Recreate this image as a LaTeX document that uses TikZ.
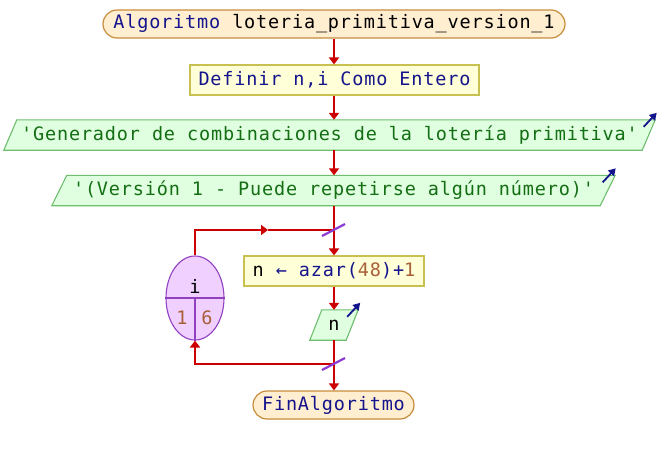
\documentclass[tikz,border=0pt]{standalone}
\usepackage{fontspec}
\usetikzlibrary{arrows.meta,calc,shapes.geometric,backgrounds}
\newfontfamily\codefont[LetterSpace=4.5]{DejaVu Sans Mono}
\definecolor{termfill}{RGB}{255,238,208}
\definecolor{termline}{RGB}{200,140,60}
\definecolor{procfill}{RGB}{255,255,216}
\definecolor{procline}{RGB}{200,192,80}
\definecolor{iofill}{RGB}{224,255,224}
\definecolor{ioline}{RGB}{110,190,110}
\definecolor{loopfill}{RGB}{240,208,255}
\definecolor{loopline}{RGB}{144,64,192}
\definecolor{slashcol}{RGB}{140,60,210}
\definecolor{flowred}{RGB}{204,0,0}
\definecolor{kw}{RGB}{20,20,140}
\definecolor{strcol}{RGB}{20,110,20}
\definecolor{numcol}{RGB}{168,96,56}
\newcommand{\kwd}[1]{\textcolor{kw}{#1}}
\newcommand{\numv}[1]{\textcolor{numcol}{#1}}
\tikzset{
  x=1pt, y=-1pt,
  every node/.style={font=\codefont\fontsize{18.5}{21}\selectfont, inner sep=0pt},
  terminal/.style={draw=termline, fill=termfill, line width=1.2pt, rounded corners=14pt, minimum height=28pt},
  procbox/.style={draw=procline, fill=procfill, line width=1.1pt, minimum height=30pt},
  iobox/.style={minimum height=30pt, text=strcol},
  flow/.style={draw=flowred, line width=2pt},
  flowarrow/.style={flow, -{Triangle[width=10pt,length=7pt]}},
  slashline/.style={draw=slashcol, line width=2.2pt},
  outicon/.style={draw=kw, line width=1.8pt, -{Triangle[width=8pt,length=7pt]}},
  loopnode/.style={draw=loopline, fill=loopfill, line width=1.1pt, ellipse, minimum width=58pt, minimum height=84pt},
}
% parallelogram outline behind an I/O node, slant half-width #2
\newcommand{\ioshape}[2]{%
  \begin{scope}[on background layer]
    \filldraw[fill=iofill, draw=ioline, line width=1.1pt]
      ($(#1.south west)+(-#2,0)$) -- ($(#1.north west)+(#2,0)$) --
      ($(#1.north east)+(#2,0)$) -- ($(#1.south east)+(-#2,0)$) -- cycle;
  \end{scope}}
\begin{document}
\begin{tikzpicture}
\useasboundingbox (0,0) rectangle (668,455);

% nodes
\node[terminal, minimum width=462pt] (start) at (334,24)
  {\kwd{Algoritmo} loteria\_primitiva\_version\_1};
\node[procbox, minimum width=289pt] (def) at (334.5,80)
  {\kwd{Definir n,i Como Entero}};
\node[iobox, minimum width=638pt] (out1) at (329.5,135)
  {'Generador de combinaciones de la lotería primitiva'};
\node[iobox, minimum width=548pt] (out2) at (333.5,190.5)
  {'(Versión 1 - Puede repetirse algún número)'};
\node[loopnode] (loop) at (195,298) {};
\node (loopvar) at (195,286) {i};
\node (loopfrom) at (182,318) {\numv{1}};
\node (loopto) at (207,318) {\numv{6}};
\node[procbox, minimum width=180pt] (asg) at (334,271)
  {n \kwd{←} \kwd{azar(}\numv{48}\kwd{)+}\numv{1}};
\node[iobox, minimum width=36pt, text=black] (outn) at (334,325) {n};
\node[terminal, minimum width=161pt] (fin) at (333.5,405) {\kwd{FinAlgoritmo}};

% parallelogram outlines of the output nodes
\ioshape{out1}{6.5}
\ioshape{out2}{7.5}
\ioshape{outn}{6}

% output markers
\draw[outicon] ($(out1.north east)+(-5,7)$) -- ($(out1.north east)+(8,-7)$);
\draw[outicon] ($(out2.north east)+(-5,7)$) -- ($(out2.north east)+(8,-7)$);
\draw[outicon] ($(outn.north east)+(-5,7)$) -- ($(outn.north east)+(8,-7)$);

% loop divider lines
\draw[loopline, line width=1.1pt] (loop.west) -- (loop.east);
\draw[loopline, line width=1.1pt] (loop.center) -- (loop.south);

% coordinates of the loop path
\coordinate (jtop) at (334,230);
\coordinate (jbot) at (334,364);
\coordinate (ltop) at (195,230);
\coordinate (lmid) at (268,230);
\coordinate (lbot) at (195,364);

% main flow, kept on the vertical through the start node
\draw[flowarrow] (start.south) -- (start.south |- def.north);
\draw[flowarrow] (start.south |- def.south) -- (start.south |- out1.north);
\draw[flowarrow] (start.south |- out1.south) -- (start.south |- out2.north);
\draw[flowarrow] (start.south |- out2.south) -- (start.south |- asg.north);
\draw[flowarrow] (start.south |- asg.south) -- (start.south |- outn.north);
\draw[flowarrow] (start.south |- outn.south) -- (start.south |- fin.north);

% loop return paths
\draw[flowarrow] (loop.north) -- (ltop) -- (lmid);
\draw[flow] (lmid) -- (jtop);
\draw[flowarrow] (jbot) -- (lbot) -- (loop.south);

% loop junction marks
\draw[slashline] ($(jtop)+(-12,6)$) -- ($(jtop)+(11,-6)$);
\draw[slashline] ($(jbot)+(-12,6)$) -- ($(jbot)+(11,-6)$);
\end{tikzpicture}
\end{document}
